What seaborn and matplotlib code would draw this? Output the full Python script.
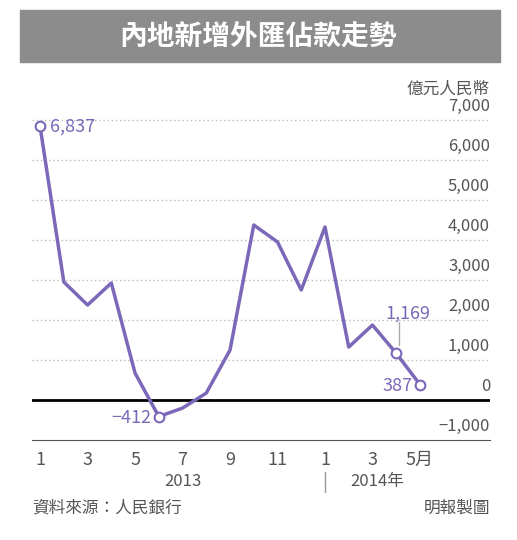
import matplotlib
matplotlib.use("Agg")
import matplotlib.pyplot as plt
import seaborn as sns
import pandas as pd

# Monthly new FX purchase positions (億元人民幣), Jan 2013 - May 2014
months = [1, 2, 3, 4, 5, 6, 7, 8, 9, 10, 11, 12, 1, 2, 3, 4, 5]
values = [6837, 2950, 2375, 2925, 675, -412, -200, 175, 1250, 4375, 3950, 2750, 4325, 1325, 1875, 1169, 387]
y_ticks = [-1000, 0, 1000, 2000, 3000, 4000, 5000, 6000, 7000]
x_labels = ["1", "3", "5", "7", "9", "11", "1", "3", "5月"]
marked = {0: "6,837", 5: "−412", 15: "1,169", 16: "387"}

sns.set_style("white")
plt.rcParams["font.family"] = ["Noto Sans CJK TC", "DejaVu Sans"]

purple = "#7b68b8"
grey = "#555555"
df = pd.DataFrame({"idx": range(len(values)), "value": values})

fig = plt.figure(figsize=(5.17, 5.40), dpi=100)
fig.patch.set_facecolor("white")

# title banner
fig.patches.append(plt.Rectangle((20 / 517, 1 - 62 / 540), 480 / 517, 52 / 540,
                                 transform=fig.transFigure, color="#8c8c8c"))
fig.text(0.5, 1 - 37 / 540, "內地新增外匯佔款走勢", color="white", fontsize=20,
         fontweight="bold", ha="center", va="center")

ax = fig.add_axes([32 / 517, 0.185, 458 / 517, 0.63])
ax.set_xlim(-0.34, 18.95)
ax.set_ylim(-1000, 7500)

for t in y_ticks:
    if t == 0:
        ax.axhline(0, color="black", lw=2, zorder=2)
    elif t > -1000:
        ax.axhline(t, color="#bbbbbb", lw=1, ls=(0, (1, 2)), zorder=1)
    ax.text(18.95, t + 130, f"{t:,}".replace("-", "−"), ha="right", va="bottom",
            fontsize=12, color=grey)
ax.text(18.95, 7550, "億元人民幣", ha="right", va="bottom", fontsize=12, color=grey)

sns.lineplot(data=df, x="idx", y="value", color=purple, lw=2.5, ax=ax, zorder=3)
for i, lab in marked.items():
    ax.plot(i, values[i], "o", ms=7, mfc="white", mec=purple, mew=1.5, zorder=4)
ax.text(0.4, values[0], marked[0], color=purple, fontsize=13, va="center")
ax.text(-0.3 + 5, values[5] - 30, marked[5], color=purple, fontsize=13, va="center", ha="right")
ax.plot([15.1, 15.1], [values[15] + 200, 1950], color="#aaaaaa", lw=1)
ax.text(15.5, 2150, marked[15], color=purple, fontsize=13, va="center", ha="center")
ax.text(15.7, values[16] - 30, marked[16], color=purple, fontsize=13, va="center", ha="right")

for s in ["top", "right", "left"]:
    ax.spines[s].set_visible(False)
ax.spines["bottom"].set_color(grey)
ax.set_xticks(range(len(values)))
ax.set_xticklabels([])
ax.tick_params(axis="x", length=5, color=grey, direction="in")
ax.set_yticks([])
ax.set_xlabel("")
ax.set_ylabel("")
for k, lab in enumerate(x_labels):
    ax.text(2 * k, -1500, lab, ha="center", va="center", fontsize=13, color=grey)
ax.text(6, -2030, "2013", ha="center", va="center", fontsize=12, color=grey)
ax.text(14.2, -2030, "2014年", ha="center", va="center", fontsize=12, color=grey)
ax.plot([12, 12], [-1800, -2300], color="#999999", lw=1, clip_on=False)

fig.text(32 / 517, 1 - 508 / 540, "資料來源：人民銀行", fontsize=12, color=grey, va="center")
fig.text(490 / 517, 1 - 508 / 540, "明報製圖", fontsize=12, color=grey, va="center", ha="right")

fig.savefig("out.png", dpi=100)
